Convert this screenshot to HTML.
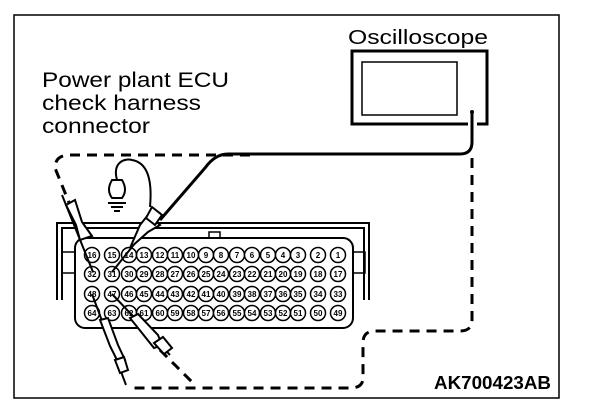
<!DOCTYPE html>
<html><head><meta charset="utf-8"><style>body{margin:0;background:#fff}svg{display:block}</style></head><body>
<svg width="608" height="408" viewBox="0 0 608 408" xmlns="http://www.w3.org/2000/svg" font-family="Liberation Sans, sans-serif">
<rect x="14" y="15" width="545" height="383" fill="none" stroke="#000" stroke-width="1.5"/>
<text x="42" y="87" font-size="21" textLength="187" lengthAdjust="spacingAndGlyphs">Power plant ECU</text>
<text x="42" y="110" font-size="21" textLength="159" lengthAdjust="spacingAndGlyphs">check harness</text>
<text x="42" y="133" font-size="21" textLength="108" lengthAdjust="spacingAndGlyphs">connector</text>
<text x="348" y="44" font-size="20" textLength="140" lengthAdjust="spacingAndGlyphs">Oscilloscope</text>
<text x="434" y="389" font-size="18" font-weight="bold" textLength="117" lengthAdjust="spacingAndGlyphs">AK700423AB</text>
<path d="M468 124 H352 V51 H487 V124 H477" fill="none" stroke="#000" stroke-width="3"/>
<rect x="362" y="62" width="95" height="53" fill="none" stroke="#000" stroke-width="1.5"/>
<circle cx="472" cy="112" r="2" fill="#000"/>
<path d="M472 112 V142 Q472 154 460 154 H228 Q215 154 205 168 L160 220" fill="none" stroke="#000" stroke-width="3"/>
<g fill="none" stroke="#000" stroke-width="3" stroke-dasharray="10,7">
<path d="M250 155 H70 Q55 155 55 168 L70 205"/>
<path d="M472 158 V320 Q472 331 460 331 H375 Q363 331 363 343 V378 Q363 388 350 388 H134"/>
<path d="M160 350 L196 386"/>
</g>
<g fill="none" stroke="#000" stroke-width="2">
<path d="M57 300 V223 H369 V300"/>
<path d="M62 300 V228 H364 V300"/>
<rect x="209" y="232" width="11" height="8" stroke-width="1.5"/>
<rect x="75" y="238" width="278" height="90" rx="10" fill="#fff"/>
<rect x="62" y="252" width="13" height="21" stroke-width="1.5"/>
<rect x="353" y="252" width="12" height="21" stroke-width="1.5"/>
</g>
<g stroke="#000" stroke-width="1.5" fill="#fff">
<circle cx="92" cy="255" r="7.5"/><circle cx="112" cy="255" r="7.5"/><circle cx="129" cy="255" r="7.5"/><circle cx="144" cy="255" r="7.5"/><circle cx="160" cy="255" r="7.5"/><circle cx="175" cy="255" r="7.5"/><circle cx="191" cy="255" r="7.5"/><circle cx="206" cy="255" r="7.5"/><circle cx="221" cy="255" r="7.5"/><circle cx="237" cy="255" r="7.5"/><circle cx="252" cy="255" r="7.5"/><circle cx="268" cy="255" r="7.5"/><circle cx="283" cy="255" r="7.5"/><circle cx="298" cy="255" r="7.5"/><circle cx="318" cy="255" r="7.5"/><circle cx="338" cy="255" r="7.5"/>
<circle cx="92" cy="274" r="7.5"/><circle cx="112" cy="274" r="7.5"/><circle cx="129" cy="274" r="7.5"/><circle cx="144" cy="274" r="7.5"/><circle cx="160" cy="274" r="7.5"/><circle cx="175" cy="274" r="7.5"/><circle cx="191" cy="274" r="7.5"/><circle cx="206" cy="274" r="7.5"/><circle cx="221" cy="274" r="7.5"/><circle cx="237" cy="274" r="7.5"/><circle cx="252" cy="274" r="7.5"/><circle cx="268" cy="274" r="7.5"/><circle cx="283" cy="274" r="7.5"/><circle cx="298" cy="274" r="7.5"/><circle cx="318" cy="274" r="7.5"/><circle cx="338" cy="274" r="7.5"/>
<circle cx="92" cy="294" r="7.5"/><circle cx="112" cy="294" r="7.5"/><circle cx="129" cy="294" r="7.5"/><circle cx="144" cy="294" r="7.5"/><circle cx="160" cy="294" r="7.5"/><circle cx="175" cy="294" r="7.5"/><circle cx="191" cy="294" r="7.5"/><circle cx="206" cy="294" r="7.5"/><circle cx="221" cy="294" r="7.5"/><circle cx="237" cy="294" r="7.5"/><circle cx="252" cy="294" r="7.5"/><circle cx="268" cy="294" r="7.5"/><circle cx="283" cy="294" r="7.5"/><circle cx="298" cy="294" r="7.5"/><circle cx="318" cy="294" r="7.5"/><circle cx="338" cy="294" r="7.5"/>
<circle cx="92" cy="313" r="7.5"/><circle cx="112" cy="313" r="7.5"/><circle cx="129" cy="313" r="7.5"/><circle cx="144" cy="313" r="7.5"/><circle cx="160" cy="313" r="7.5"/><circle cx="175" cy="313" r="7.5"/><circle cx="191" cy="313" r="7.5"/><circle cx="206" cy="313" r="7.5"/><circle cx="221" cy="313" r="7.5"/><circle cx="237" cy="313" r="7.5"/><circle cx="252" cy="313" r="7.5"/><circle cx="268" cy="313" r="7.5"/><circle cx="283" cy="313" r="7.5"/><circle cx="298" cy="313" r="7.5"/><circle cx="318" cy="313" r="7.5"/><circle cx="338" cy="313" r="7.5"/>
</g>
<g font-size="8" font-weight="bold" text-anchor="middle" fill="#000">
<text x="92" y="258">16</text><text x="112" y="258">15</text><text x="129" y="258">14</text><text x="144" y="258">13</text><text x="160" y="258">12</text><text x="175" y="258">11</text><text x="191" y="258">10</text><text x="206" y="258">9</text><text x="221" y="258">8</text><text x="237" y="258">7</text><text x="252" y="258">6</text><text x="268" y="258">5</text><text x="283" y="258">4</text><text x="298" y="258">3</text><text x="318" y="258">2</text><text x="338" y="258">1</text>
<text x="92" y="277">32</text><text x="112" y="277">31</text><text x="129" y="277">30</text><text x="144" y="277">29</text><text x="160" y="277">28</text><text x="175" y="277">27</text><text x="191" y="277">26</text><text x="206" y="277">25</text><text x="221" y="277">24</text><text x="237" y="277">23</text><text x="252" y="277">22</text><text x="268" y="277">21</text><text x="283" y="277">20</text><text x="298" y="277">19</text><text x="318" y="277">18</text><text x="338" y="277">17</text>
<text x="92" y="297">48</text><text x="112" y="297">47</text><text x="129" y="297">46</text><text x="144" y="297">45</text><text x="160" y="297">44</text><text x="175" y="297">43</text><text x="191" y="297">42</text><text x="206" y="297">41</text><text x="221" y="297">40</text><text x="237" y="297">39</text><text x="252" y="297">38</text><text x="268" y="297">37</text><text x="283" y="297">36</text><text x="298" y="297">35</text><text x="318" y="297">34</text><text x="338" y="297">33</text>
<text x="92" y="316">64</text><text x="112" y="316">63</text><text x="129" y="316">62</text><text x="144" y="316">61</text><text x="160" y="316">60</text><text x="175" y="316">59</text><text x="191" y="316">58</text><text x="206" y="316">57</text><text x="221" y="316">56</text><text x="237" y="316">55</text><text x="252" y="316">54</text><text x="268" y="316">53</text><text x="283" y="316">52</text><text x="298" y="316">51</text><text x="318" y="316">50</text><text x="338" y="316">49</text>
</g>
<g fill="#fff" stroke="#000" stroke-width="2">
<path d="M62 195 L93 272" fill="none"/>
<path d="M66 205 L75 200 L82 222 L92 236 L80 240 L76 225 Z"/>
<path d="M112 272 L160 212" fill="none"/>
<path d="M148 215 L160 225 L148 232 L130 248 L140 225 Z"/>
<path d="M152 207 L162 215 L155 225 L146 218 Z"/>
<path d="M92 294 L126 385" fill="none"/>
<path d="M100 320 L108 318 L118 345 L125 360 L118 362 L110 346 Z"/>
<path d="M115 360 L124 357 L128 370 L120 373 Z"/>
<path d="M112 294 L170 355" fill="none"/>
<path d="M130 318 L138 314 L158 335 L162 345 L154 348 Z"/>
<path d="M154 343 L163 337 L172 348 L164 354 Z"/>
</g>
<g fill="none" stroke="#000" stroke-width="2">
<path d="M117 180 C112 162 125 158 132 160 C150 163 152 185 150 207"/>
<path d="M112 180 Q106 190 112 198 H122 Q128 190 122 180 Z" fill="#fff"/>
<path d="M108 203 H126 M111 207 H123 M114 211 H120"/>
</g>
</svg>
</body></html>
